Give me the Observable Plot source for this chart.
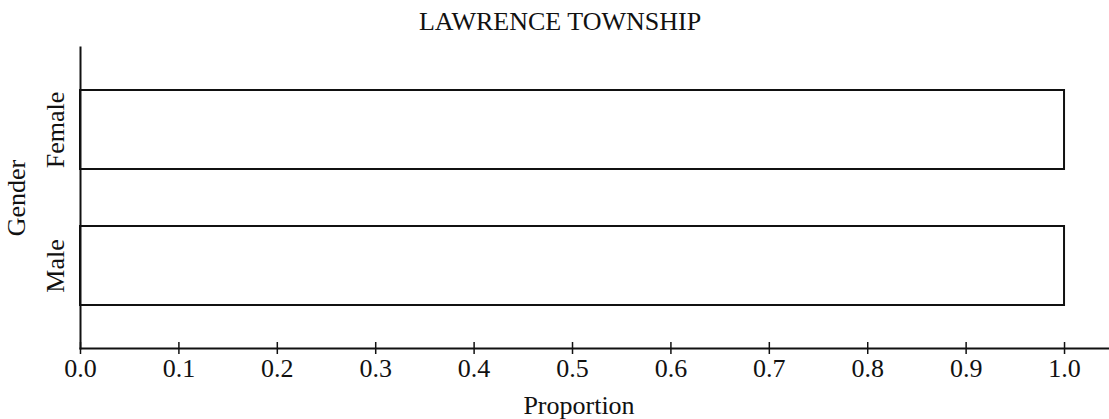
<!DOCTYPE html>
<html>
<head>
<meta charset="utf-8">
<script src="https://cdn.jsdelivr.net/npm/d3@7"></script>
<script src="https://cdn.jsdelivr.net/npm/@observablehq/plot@0.6"></script>
<style>
  html, body { margin: 0; padding: 0; background: #fff; }
  #title { width: 1098px; padding-left: 11px; height: 40px; line-height: 44px; text-align: center; font-family: "Liberation Serif", "Times New Roman", serif; font-size: 26px; color: #111; white-space: nowrap; }
  #chart svg { display: block; }
</style>
</head>
<body>
<div id="title">LAWRENCE TOWNSHIP</div>
<div id="chart"></div>
<script>
const genders = ["Female", "Male"];
const proportions = [1.0, 1.0];
const xTicks = [0.0, 0.1, 0.2, 0.3, 0.4, 0.5, 0.6, 0.7, 0.8, 0.9, 1.0];
const xLabel = "Proportion";
const yLabel = "Gender";

const data = genders.map((g, i) => ({gender: g, value: proportions[i]}));
const font = "'Liberation Serif', 'Times New Roman', serif";

const chart = Plot.plot({
  width: 1109,
  height: 379,
  marginLeft: 80,
  marginRight: 0,
  marginTop: 7,
  marginBottom: 71,
  style: {fontFamily: font, fontSize: "26px", color: "#111", background: "white"},
  x: {domain: [0, 1.0457]},
  y: {domain: genders, paddingInner: 0.416, paddingOuter: 0.307},
  marks: [
    Plot.barX(data, {x: "value", y: "gender", fill: "white", stroke: "#111", strokeWidth: 2}),
    Plot.frame({anchor: "left", stroke: "#111", strokeWidth: 2}),
    Plot.frame({anchor: "bottom", stroke: "#111", strokeWidth: 2}),
    Plot.axisX({ticks: xTicks, tickSize: 12, dy: -6, tickFormat: () => "", label: null, strokeWidth: 1.5, stroke: "#111"}),
    Plot.axisX({ticks: xTicks, tickSize: 0, tickPadding: 10.5, tickFormat: d3.format(".1f"), label: null, fill: "#111"}),
    Plot.text([xLabel], {text: d => d, frameAnchor: "bottom", lineAnchor: "bottom", dy: 65, dx: -16, fill: "#111"}),
    Plot.axisY({tickSize: 0, tickPadding: 17, tickRotate: -90, label: yLabel, labelAnchor: "center", labelOffset: 74, labelArrow: "none", fill: "#111"})
  ]
});
document.getElementById("chart").appendChild(chart);
</script>
</body>
</html>
